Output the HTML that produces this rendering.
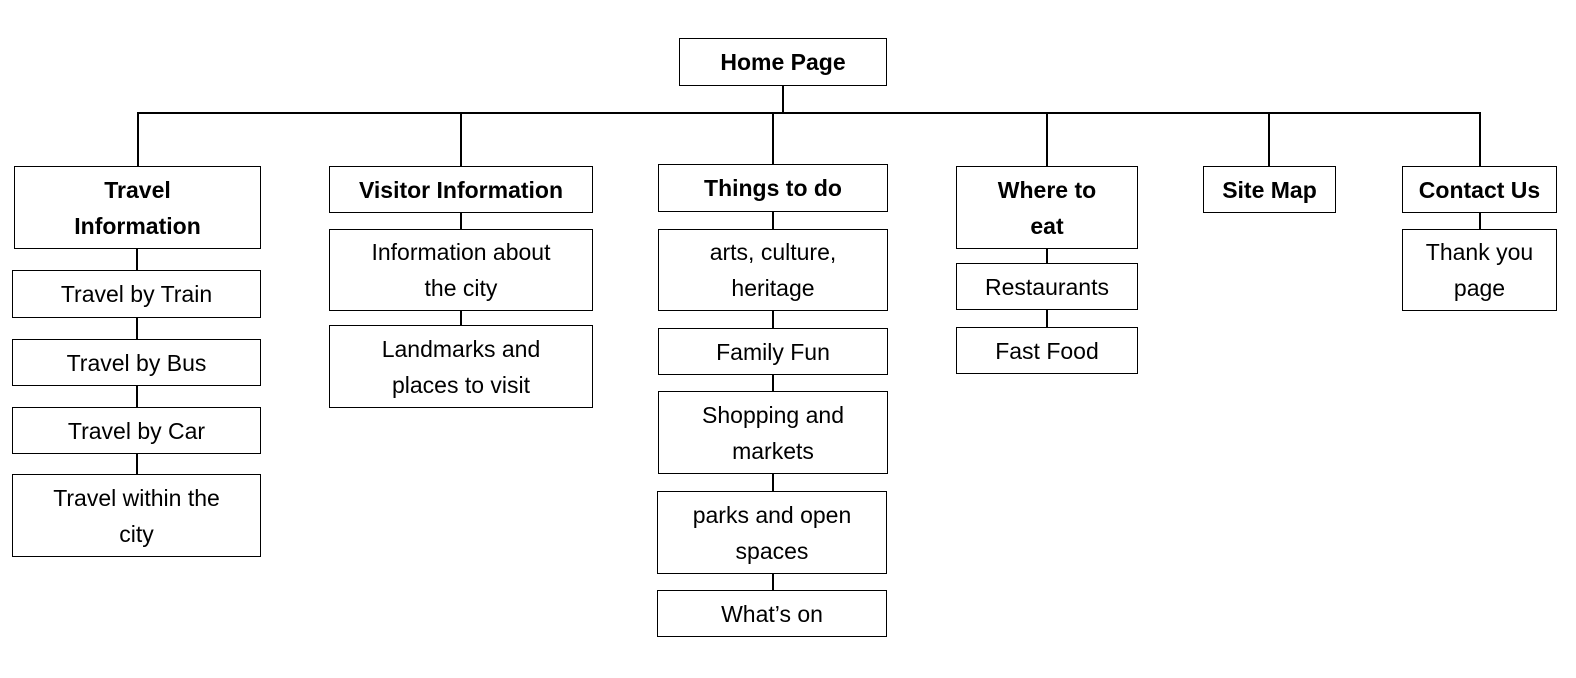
<!DOCTYPE html>
<html><head><meta charset="utf-8"><style>
body{margin:0;width:1576px;height:678px;background:#fff;position:relative;overflow:hidden;font-family:"Liberation Sans",sans-serif;}
.b{position:absolute;border:1.5px solid #000;box-sizing:border-box;display:flex;align-items:center;justify-content:center;text-align:center;font-size:23px;line-height:36px;color:#000;background:#fff;}
.h{font-weight:bold;}
.l{position:absolute;background:#000;}
</style></head><body>
<div class="l" style="left:782px;top:86px;width:1.5px;height:27px"></div>
<div class="l" style="left:137px;top:112px;width:1344px;height:1.5px"></div>
<div class="l" style="left:137px;top:113px;width:1.5px;height:53px"></div>
<div class="l" style="left:460px;top:113px;width:1.5px;height:53px"></div>
<div class="l" style="left:772px;top:113px;width:1.5px;height:51px"></div>
<div class="l" style="left:1046px;top:113px;width:1.5px;height:53px"></div>
<div class="l" style="left:1268px;top:113px;width:1.5px;height:53px"></div>
<div class="l" style="left:1479px;top:113px;width:1.5px;height:53px"></div>
<div class="l" style="left:136px;top:249px;width:1.5px;height:225px"></div>
<div class="l" style="left:460px;top:213px;width:1.5px;height:112px"></div>
<div class="l" style="left:772px;top:212px;width:1.5px;height:378px"></div>
<div class="l" style="left:1046px;top:249px;width:1.5px;height:78px"></div>
<div class="l" style="left:1479px;top:213px;width:1.5px;height:16px"></div>

<div class="b h" style="left:679px;top:38px;width:208px;height:48px">Home Page</div>
<div class="b h" style="left:14px;top:166px;width:247px;height:83px">Travel<br>Information</div>
<div class="b" style="left:12px;top:270px;width:249px;height:48px">Travel by Train</div>
<div class="b" style="left:12px;top:339px;width:249px;height:47px">Travel by Bus</div>
<div class="b" style="left:12px;top:407px;width:249px;height:47px">Travel by Car</div>
<div class="b" style="left:12px;top:474px;width:249px;height:83px">Travel within the<br>city</div>
<div class="b h" style="left:329px;top:166px;width:264px;height:47px">Visitor Information</div>
<div class="b" style="left:329px;top:229px;width:264px;height:82px">Information about<br>the city</div>
<div class="b" style="left:329px;top:325px;width:264px;height:83px">Landmarks and<br>places to visit</div>
<div class="b h" style="left:658px;top:164px;width:230px;height:48px">Things to do</div>
<div class="b" style="left:658px;top:229px;width:230px;height:82px">arts, culture,<br>heritage</div>
<div class="b" style="left:658px;top:328px;width:230px;height:47px">Family Fun</div>
<div class="b" style="left:658px;top:391px;width:230px;height:83px">Shopping and<br>markets</div>
<div class="b" style="left:657px;top:491px;width:230px;height:83px">parks and open<br>spaces</div>
<div class="b" style="left:657px;top:590px;width:230px;height:47px">What’s on</div>
<div class="b h" style="left:956px;top:166px;width:182px;height:83px">Where to<br>eat</div>
<div class="b" style="left:956px;top:263px;width:182px;height:47px">Restaurants</div>
<div class="b" style="left:956px;top:327px;width:182px;height:47px">Fast Food</div>
<div class="b h" style="left:1203px;top:166px;width:133px;height:47px">Site Map</div>
<div class="b h" style="left:1402px;top:166px;width:155px;height:47px">Contact Us</div>
<div class="b" style="left:1402px;top:229px;width:155px;height:82px">Thank you<br>page</div>
</body></html>
